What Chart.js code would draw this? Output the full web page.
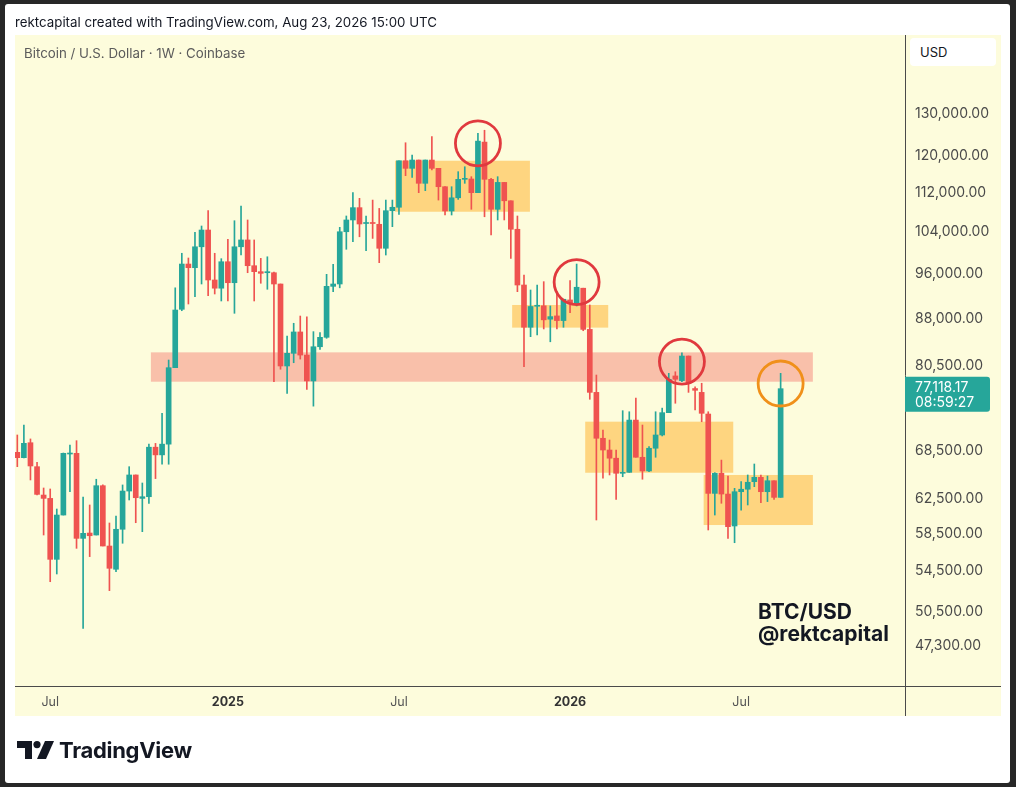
<!DOCTYPE html>
<html>
<head>
<meta charset="utf-8">
<script src="https://cdn.jsdelivr.net/npm/chart.js@4.4.1/dist/chart.umd.min.js"></script>
<style>
  html, body { margin: 0; padding: 0; }
  body { width: 1016px; height: 787px; background: #272727; position: relative; overflow: hidden; font-family: Inter, "Liberation Sans", sans-serif; }
  #card { position: absolute; left: 5px; top: 4px; width: 1005px; height: 779px; background: #fff; border-radius: 3px; }
  #pane { position: absolute; left: 15px; top: 35px; width: 986px; height: 681px; background: #fdfcdc; }
  #chart { position: absolute; left: 0; top: 0; }
  .txt { position: absolute; white-space: nowrap; }
  #head { left: 15px; top: 14px; font-size: 13.3px; color: #131722; }
  #title { left: 24px; top: 45px; font-size: 13.3px; color: #5b5b5b; }
  #usd { left: 910px; top: 38px; width: 86px; height: 28px; background: #fff; border-radius: 4px; }
  #usd span { position: absolute; left: 10px; top: 6px; font-size: 13px; color: #131722; }
  #mark { left: 758px; top: 601px; font-size: 21px; font-weight: 700; line-height: 22px; color: #131722; }
  #logo { left: 17px; top: 741px; }
  #tv { left: 59px; top: 737px; font-size: 22px; font-weight: 700; color: #131722; letter-spacing: -0.3px; }
</style>
</head>
<body>
<div id="card"></div>
<div id="pane"></div>
<canvas id="chart" width="1016" height="787"></canvas>
<div class="txt" id="head">rektcapital created with TradingView.com, Aug 23, 2026 15:00 UTC</div>
<div class="txt" id="title">Bitcoin / U.S. Dollar · 1W · Coinbase</div>
<div class="txt" id="usd"><span>USD</span></div>
<div class="txt" id="mark">BTC/USD<br>@rektcapital</div>
<svg class="txt" id="logo" width="40" height="18" viewBox="0 0 40 18">
  <path d="M0 0h15v18h-7v-11h-8z" fill="#131722"/>
  <circle cx="20" cy="3.6" r="3.6" fill="#131722"/>
  <path d="M28 0h9l-8 18h-9z" fill="#131722"/>
</svg>
<div class="txt" id="tv">TradingView</div>
<script>
// weekly BTC/USD candles, first week starts 2024-05-27
var firstWeek = '2024-05-27';
var weeks = [];
for (var i = 0; i < 117; i++) {
    var d = new Date(firstWeek + 'T00:00:00Z');
    d.setUTCDate(d.getUTCDate() + 7 * i);
    weeks.push(d.toISOString().slice(0, 10));
}

var opens = [68330, 67640, 69590, 66490, 63000, 62600, 55750, 60650, 68110, 68200,
    58020, 58610, 58390, 64130, 57180, 54710, 59030, 63480, 65450, 62600,
    62800, 69000, 68000, 69400, 80260, 89680, 97740, 97060, 101000, 104270,
    94820, 93350, 98170, 94330, 101000, 102320, 97430, 96330, 96140, 96140,
    94100, 80520, 82480, 85900, 82210, 78260, 83520, 85030, 93680, 94100,
    103930, 106280, 108800, 105570, 105670, 105410, 100710, 108170, 108880, 118950,
    117240, 119110, 113950, 119110, 117240, 113220, 108110, 110860, 114820, 114890,
    111940, 123240, 114820, 108460, 114150, 110230, 104420, 93920, 86670, 90200,
    90280, 88010, 88560, 87780, 91290, 90590, 93350, 86320, 76580, 70180,
    68630, 67570, 65660, 65780, 72650, 67690, 65950, 68860, 70620, 73680,
    79010, 78310, 82060, 77140, 76580, 73490, 63200, 65660, 63120, 59400,
    63400, 63700, 64620, 65160, 63400, 64740, 62720];
var highs = [70620, 71970, 70090, 67050, 63850, 63730, 61350, 68240, 69290, 69860,
    62760, 61820, 64920, 64220, 59740, 60540, 64220, 66490, 65450, 64460,
    69400, 69500, 73600, 81440, 93420, 99760, 98870, 103820, 105070, 108170,
    99760, 98740, 102440, 106130, 109140, 106280, 102320, 98800, 99100, 96270,
    94100, 85240, 87330, 88540, 88420, 85950, 85790, 95850, 97680, 104810,
    107090, 111940, 110740, 107090, 110380, 108640, 110380, 110380, 118950, 123090,
    120250, 119110, 119110, 124520, 117240, 113220, 113220, 116500, 117600, 115400,
    125320, 126050, 115040, 115400, 114150, 110230, 107090, 95720, 93030, 93920,
    94520, 90250, 92740, 91410, 94700, 97740, 93350, 90420, 79150, 71290,
    69950, 68630, 73960, 73810, 75760, 71970, 69070, 73810, 74320, 79400,
    79640, 82570, 82060, 77390, 77920, 73810, 65740, 67330, 65320, 63810,
    64620, 65450, 66830, 65450, 65320, 64740, 79400];
var lows = [66490, 67600, 64830, 63000, 58390, 53430, 54220, 60650, 63400, 56930,
    48890, 56040, 58390, 57180, 52530, 54460, 57480, 62410, 59770, 58760,
    62000, 65000, 66800, 66800, 80260, 89440, 90590, 91860, 94100, 92030,
    92330, 91110, 91110, 89000, 99430, 96140, 91110, 94230, 93160, 78150,
    80020, 76440, 81020, 81580, 77000, 74600, 83100, 84870, 92740, 93420,
    100520, 101980, 102940, 100250, 102620, 97990, 99430, 104930, 107430, 115620,
    115240, 111940, 112370, 116870, 110380, 107290, 107290, 110520, 113950, 108460,
    111940, 106930, 103280, 106280, 106280, 98800, 92740, 80410, 85130, 85400,
    86390, 84310, 86390, 86670, 89100, 90250, 86100, 75580, 60080, 65040,
    65450, 62490, 65230, 65780, 67690, 64920, 65860, 67690, 70490, 73680,
    75010, 78150, 76580, 74060, 72420, 58950, 60650, 62020, 58020, 57540,
    61220, 61820, 64010, 62100, 62220, 62490, 62720];
var closes = [67640, 69510, 66580, 63080, 62600, 55750, 60650, 68200, 68240, 58020,
    58580, 58310, 64130, 57180, 54810, 59030, 63480, 65450, 62680, 62800,
    69000, 68000, 69400, 80260, 89560, 97740, 97060, 101000, 104270, 94820,
    93350, 98170, 94330, 101000, 102320, 97430, 96330, 96030, 96330, 94100,
    80520, 82480, 85900, 82210, 78260, 83520, 85030, 93680, 94100, 103930,
    106280, 108800, 105470, 105670, 105570, 100710, 108170, 108880, 118950, 117240,
    119110, 113950, 119110, 117240, 113220, 108110, 110860, 114820, 115040, 111940,
    123470, 114820, 108460, 114150, 110230, 104420, 93920, 86670, 90160, 90280,
    87900, 88440, 87780, 91410, 90590, 93520, 86320, 76580, 70180, 68630,
    67570, 65660, 65780, 72650, 67690, 65950, 68860, 70620, 73680, 78510,
    78510, 82060, 77920, 76880, 73590, 63200, 65660, 63120, 59320, 63400,
    63700, 64550, 65160, 63400, 64740, 62720, 77118.17];

// axis ticks
var priceTicks = [47300, 50500, 54500, 58500, 62500, 68500, 80500, 88000, 96000, 104000, 112000, 120000, 130000];
var timeTickWeeks = ['2024-07-01', '2025-01-06', '2025-07-07', '2026-01-05', '2026-07-06'];
var timeTickText = ['Jul', '2025', 'Jul', '2026', 'Jul'];

// marked zones (week index from / to, price low / high)
var zoneFrom = [20.3, 57.4, 75.2, 86.3, 104.3];
var zoneTo = [120.9, 77.9, 89.8, 108.8, 120.9];
var zoneLow = [78150, 107960, 86610, 65730, 59510];
var zoneHigh = [82630, 118950, 90420, 72430, 65450];
// circled candles
var circleWeek = [70, 85, 101, 116];
var circlePrice = [122960, 94450, 81200, 77880];

var UP = '#26a69a', DOWN = '#ef5350';
var zoneColors = ['rgba(242,70,70,0.33)', 'rgba(255,160,0,0.42)', 'rgba(255,160,0,0.42)', 'rgba(255,160,0,0.42)', 'rgba(255,160,0,0.42)'];
var circleColors = ['#e0393e', '#e0393e', '#e0393e', '#f0901a'];
var FONT = 'Inter, "Liberation Sans", sans-serif';

function candleColor(ctx) {
    var i = ctx.dataIndex;
    return closes[i] >= opens[i] ? UP : DOWN;
}

var overlay = {
    id: 'overlay',
    beforeDatasetsDraw: function(chart) {
        var c = chart.ctx, xs = chart.scales.x, ys = chart.scales.y, a = chart.chartArea;
        c.save();
        c.beginPath(); c.rect(a.left, a.top, a.right - a.left, a.bottom - a.top); c.clip();
        for (var k = 0; k < zoneFrom.length; k++) {
            var x0 = xs.getPixelForValue(zoneFrom[k]), x1 = xs.getPixelForValue(zoneTo[k]);
            var y0 = ys.getPixelForValue(zoneHigh[k]), y1 = ys.getPixelForValue(zoneLow[k]);
            c.fillStyle = zoneColors[k];
            c.fillRect(x0, y0, x1 - x0, y1 - y0);
        }
        c.restore();
    },
    afterDatasetsDraw: function(chart) {
        var c = chart.ctx, xs = chart.scales.x, ys = chart.scales.y;
        c.save();
        c.lineWidth = 2.8;
        for (var k = 0; k < circleWeek.length; k++) {
            c.strokeStyle = circleColors[k];
            c.beginPath();
            c.arc(xs.getPixelForValue(circleWeek[k]), ys.getPixelForValue(circlePrice[k]), 22.5, 0, Math.PI * 2);
            c.stroke();
        }
        c.restore();
    },
    afterDraw: function(chart) {
        var c = chart.ctx, ys = chart.scales.y, a = chart.chartArea;
        c.save();
        // pane separators
        c.strokeStyle = '#4a4a4a'; c.lineWidth = 1;
        c.beginPath();
        c.moveTo(Math.round(a.right) + 0.5, 35); c.lineTo(Math.round(a.right) + 0.5, 716);
        c.moveTo(15, Math.round(a.bottom) + 0.5); c.lineTo(1001, Math.round(a.bottom) + 0.5);
        c.stroke();
        // last price label
        var last = closes[closes.length - 1];
        var y = ys.getPixelForValue(last);
        c.fillStyle = UP;
        c.beginPath();
        c.roundRect(a.right, y - 12, 85, 35, [0, 3, 3, 0]);
        c.fill();
        c.fillStyle = '#ffffff';
        c.font = '14px ' + FONT;
        c.textBaseline = 'middle';
        c.fillText(last.toLocaleString('en-US', {minimumFractionDigits: 2, maximumFractionDigits: 2}), a.right + 10, y - 1);
        c.fillText('08:59:27', a.right + 10, y + 14);
        c.restore();
    }
};

new Chart(document.getElementById('chart'), {
    type: 'bar',
    data: {
        datasets: [{
            label: 'body',
            data: opens.map(function(o, i) { return {x: i, y: [o, closes[i]]}; }),
            backgroundColor: candleColor,
            barThickness: 5,
            minBarLength: 1,
            grouped: false,
            order: 0
        }, {
            label: 'wick',
            data: lows.map(function(l, i) { return {x: i, y: [l, highs[i]]}; }),
            backgroundColor: candleColor,
            barThickness: 1,
            grouped: false,
            order: 1
        }]
    },
    plugins: [overlay],
    options: {
        responsive: false,
        animation: false,
        devicePixelRatio: 1,
        layout: {padding: {left: 15, top: 35, right: 15, bottom: 71}},
        plugins: {legend: {display: false}, tooltip: {enabled: false}},
        scales: {
            x: {
                type: 'linear',
                offset: false,
                min: -0.35,
                max: 134.9,
                grid: {display: false, drawTicks: false},
                border: {display: false},
                afterFit: function(s) { s.height = 30; },
                afterBuildTicks: function(s) {
                    s.ticks = timeTickWeeks.map(function(w) { return {value: weeks.indexOf(w)}; });
                },
                ticks: {
                    autoSkip: false,
                    maxRotation: 0,
                    padding: 9,
                    color: function(ctx) { return /^\d/.test(ctx.tick.label) ? '#333' : '#555'; },
                    font: function(ctx) {
                        var bold = ctx.tick && /^\d/.test(ctx.tick.label);
                        return {family: FONT, size: 12.5, weight: bold ? '700' : '400'};
                    },
                    callback: function(v) {
                        var k = timeTickWeeks.indexOf(weeks[v]);
                        return k < 0 ? '' : timeTickText[k];
                    }
                }
            },
            y: {
                type: 'logarithmic',
                position: 'right',
                min: 43820,
                max: 151070,
                grid: {display: false, drawTicks: false},
                border: {display: false},
                afterFit: function(s) { s.width = 96; },
                afterBuildTicks: function(s) {
                    s.ticks = priceTicks.map(function(v) { return {value: v}; });
                },
                ticks: {
                    autoSkip: false,
                    padding: 10,
                    color: '#4a4a4a',
                    font: {family: FONT, size: 14},
                    callback: function(v) {
                        return Number(v).toLocaleString('en-US', {minimumFractionDigits: 2, maximumFractionDigits: 2});
                    }
                }
            }
        }
    }
});
</script>
</body>
</html>
